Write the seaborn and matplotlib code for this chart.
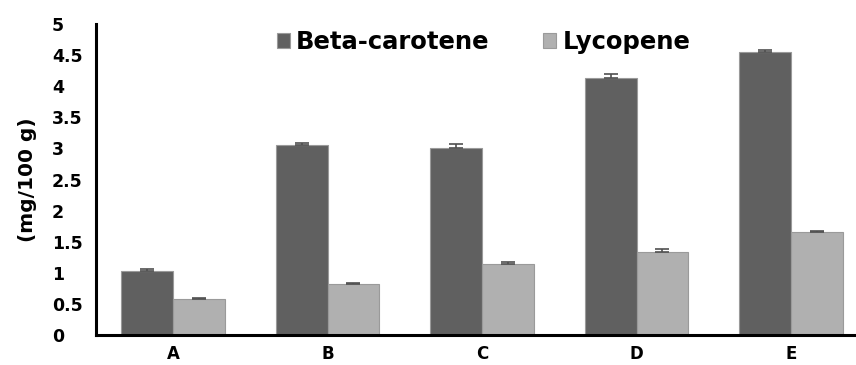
import pandas as pd
import seaborn as sns
import matplotlib.pyplot as plt

samples = ["A", "B", "C", "D", "E"]
beta_carotene = [1.03, 3.06, 3.01, 4.14, 4.55]
lycopene = [0.58, 0.82, 1.14, 1.34, 1.65]
beta_err = [0.04, 0.03, 0.06, 0.05, 0.03]
lyco_err = [0.02, 0.02, 0.04, 0.04, 0.02]
yticks = [0, 0.5, 1, 1.5, 2, 2.5, 3, 3.5, 4, 4.5, 5]
ytick_labels = ["0", "0.5", "1", "1.5", "2", "2.5", "3", "3.5", "4", "4.5", "5"]


def main():
    df = pd.DataFrame({
        "sample": samples * 2,
        "value": beta_carotene + lycopene,
        "compound": ["Beta-carotene"] * 5 + ["Lycopene"] * 5,
    })

    sns.set_style("white")
    plt.rcParams["font.family"] = ["DejaVu Sans"]
    plt.rcParams["font.weight"] = "bold"
    plt.rcParams["text.color"] = "black"
    plt.rcParams["xtick.color"] = "black"
    plt.rcParams["ytick.color"] = "black"
    plt.rcParams["axes.labelcolor"] = "black"

    fig, ax = plt.subplots(figsize=(8.56, 3.65), dpi=100)
    fig.subplots_adjust(left=0.112, right=1.0, top=0.934, bottom=0.082)

    sns.barplot(
        data=df, x="sample", y="value", hue="compound",
        palette=["#606060", "#b0b0b0"], width=0.67, errorbar=None,
        edgecolor="#9a9a9a", linewidth=0.8, ax=ax,
    )

    # error bars on top of each bar, in the same order as the bars
    errs = beta_err + lyco_err
    vals = beta_carotene + lycopene
    for patch, v, e in zip(ax.patches[:10], vals, errs):
        xc = patch.get_x() + patch.get_width() / 2
        ax.errorbar(xc, v, yerr=[[0], [e]], fmt="none", ecolor="#505050",
                    elinewidth=1.2, capsize=5, capthick=1.2)

    ax.set_ylim(0, 5)
    ax.set_xlim(-0.5, 4.42)
    ax.set_yticks(yticks)
    ax.set_yticklabels(ytick_labels, fontsize=12.5, fontweight="bold")
    ax.set_xticks(range(len(samples)))
    ax.set_xticklabels(samples, fontsize=12, fontweight="bold")
    ax.tick_params(axis="x", length=0, pad=7)
    ax.tick_params(axis="y", length=0, pad=31.5)
    ax.set_xlabel("")
    ax.set_ylabel("(mg/100 g)", fontsize=14.5, fontweight="bold")
    ax.yaxis.set_label_coords(-0.078, 0.5)

    sns.despine(ax=ax, top=True, right=True)
    for s in ["left", "bottom"]:
        ax.spines[s].set_linewidth(2.2)
        ax.spines[s].set_color("black")

    for lab in ax.get_yticklabels():
        lab.set_horizontalalignment("left")

    ax.legend(loc="center", bbox_to_anchor=(0.51, 0.942), ncol=2, frameon=False,
              prop={"size": 17.5, "weight": "bold"}, handlelength=0.55,
              handleheight=0.55, handletextpad=0.25, columnspacing=2.2)

    plt.savefig("out.png", dpi=100)


if __name__ == "__main__":
    main()
